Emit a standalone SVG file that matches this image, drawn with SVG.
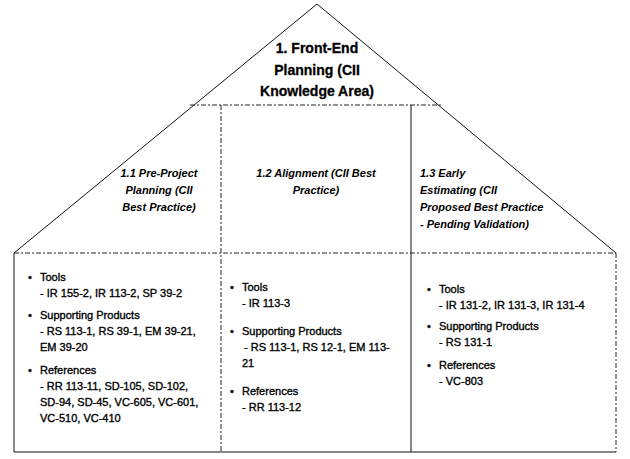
<svg xmlns="http://www.w3.org/2000/svg" width="630" height="459" viewBox="0 0 630 459">
<style>
.ln{stroke:#111;stroke-width:1;fill:none}
.dash{stroke:#222;stroke-width:1;fill:none;stroke-dasharray:5 2 2 2}
.title{font-family:"Liberation Sans",Arial,sans-serif;font-size:14px;font-weight:bold;fill:#000;stroke:#000;stroke-width:0.3;text-anchor:middle}
.sub{font-family:"Liberation Sans",Arial,sans-serif;font-size:11px;font-weight:bold;font-style:italic;fill:#000}
.body{font-family:"Liberation Sans",Arial,sans-serif;font-size:11px;fill:#000;stroke:#000;stroke-width:0.35}
.mid{text-anchor:middle}
</style>
<rect width="630" height="459" fill="#fff"/>
<g id="connectors">
<polyline class="ln" points="14,253 317,4 616,253"/>
<line class="dash" x1="190" y1="105" x2="442" y2="105"/>
<line class="dash" x1="221" y1="105" x2="221" y2="452"/>
<line class="ln" x1="411" y1="105" x2="411" y2="452"/>
<line class="dash" x1="14" y1="253" x2="616" y2="253"/>
<polyline class="ln" points="14,253 14,452 616,452"/>
<line class="dash" x1="616" y1="253" x2="616" y2="452"/>
</g>
<g id="node-title">
<text class="title" x="317" y="53">1. Front-End</text>
<text class="title" x="317" y="75">Planning (CII</text>
<text class="title" x="317" y="96">Knowledge Area)</text>
</g>
<g id="node-1-1">
<text class="sub mid" x="159" y="177">1.1 Pre-Project</text>
<text class="sub mid" x="159" y="194">Planning (CII</text>
<text class="sub mid" x="159" y="211">Best Practice)</text>
</g>
<g id="node-1-2">
<text class="sub mid" x="316" y="177">1.2 Alignment (CII Best</text>
<text class="sub mid" x="316" y="194">Practice)</text>
</g>
<g id="node-1-3">
<text class="sub" x="420" y="177">1.3 Early</text>
<text class="sub" x="420" y="194">Estimating (CII</text>
<text class="sub" x="420" y="211">Proposed Best Practice</text>
<text class="sub" x="420" y="228">- Pending Validation)</text>
</g>
<g id="node-box-1">
<text class="body" x="28" y="281">•</text>
<text class="body" x="40" y="281">Tools</text>
<text class="body" x="40" y="297">- IR 155-2, IR 113-2, SP 39-2</text>
<text class="body" x="28" y="319">•</text>
<text class="body" x="40" y="319">Supporting Products</text>
<text class="body" x="40" y="335">- RS 113-1, RS 39-1, EM 39-21,</text>
<text class="body" x="40" y="351">EM 39-20</text>
<text class="body" x="28" y="374">•</text>
<text class="body" x="40" y="374">References</text>
<text class="body" x="40" y="390">- RR 113-11, SD-105, SD-102,</text>
<text class="body" x="40" y="406">SD-94, SD-45, VC-605, VC-601,</text>
<text class="body" x="40" y="422">VC-510, VC-410</text>
</g>
<g id="node-box-2">
<text class="body" x="230" y="291">•</text>
<text class="body" x="242" y="291">Tools</text>
<text class="body" x="242" y="307">- IR 113-3</text>
<text class="body" x="230" y="335">•</text>
<text class="body" x="242" y="335">Supporting Products</text>
<text class="body" x="244" y="351">- RS 113-1, RS 12-1, EM 113-</text>
<text class="body" x="242" y="367">21</text>
<text class="body" x="230" y="395">•</text>
<text class="body" x="242" y="395">References</text>
<text class="body" x="242" y="411">- RR 113-12</text>
</g>
<g id="node-box-3">
<text class="body" x="427" y="293">•</text>
<text class="body" x="439" y="293">Tools</text>
<text class="body" x="439" y="309">- IR 131-2, IR 131-3, IR 131-4</text>
<text class="body" x="427" y="330">•</text>
<text class="body" x="439" y="330">Supporting Products</text>
<text class="body" x="439" y="346">- RS 131-1</text>
<text class="body" x="427" y="369">•</text>
<text class="body" x="439" y="369">References</text>
<text class="body" x="439" y="385">- VC-803</text>
</g>
</svg>
